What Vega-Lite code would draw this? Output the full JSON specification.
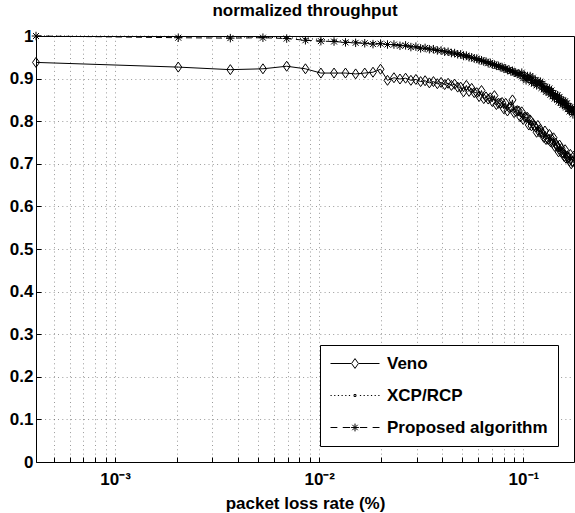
{
"$schema": "https://vega.github.io/schema/vega-lite/v6.json",
"autosize": "none",
"width": 538,
"height": 426,
"padding": {"left": 36, "top": 36, "right": 1, "bottom": 51},
"background": "white",
"title": {"text": "normalized throughput", "font": "Liberation Sans", "fontSize": 17, "fontWeight": "bold", "color": "#000", "offset": 7},
"config": {
  "font": "Liberation Sans",
  "view": {"stroke": "black", "strokeWidth": 1},
  "axis": {"labelFont": "Liberation Sans", "labelFontSize": 17, "labelFontWeight": "bold", "labelColor": "#000",
           "titleFont": "Liberation Sans", "titleFontSize": 17, "titleFontWeight": "bold", "titleColor": "#000",
           "domain": false, "gridColor": "#000", "gridDash": [1, 3.3], "gridOpacity": 0.4, "gridWidth": 1,
           "tickColor": "#000", "tickSize": -5, "tickWidth": 1},
  "legend": {"orient": "bottom-right", "offset": 16, "strokeColor": "black", "fillColor": "white", "padding": 10,
             "labelFont": "Liberation Sans", "labelFontSize": 17, "labelFontWeight": "bold", "labelColor": "#000", "labelLimit": 400,
             "symbolSize": 2401, "symbolStrokeWidth": 1, "symbolStrokeColor": "black", "symbolOpacity": 1,
             "clipHeight": 17, "rowPadding": 14, "labelOffset": 7}
},
"data": {"values": [
{"x":0.00041,"s":"Veno","y":0.938},{"x":0.00204,"s":"Veno","y":0.927},{"x":0.00367,"s":"Veno","y":0.921},{"x":0.0053,"s":"Veno","y":0.923},{"x":0.00693,"s":"Veno","y":0.929},{"x":0.00856,"s":"Veno","y":0.923},{"x":0.01019,"s":"Veno","y":0.913},{"x":0.01182,"s":"Veno","y":0.913},{"x":0.01345,"s":"Veno","y":0.913},{"x":0.01508,"s":"Veno","y":0.911},
{"x":0.01671,"s":"Veno","y":0.913},{"x":0.01834,"s":"Veno","y":0.915},{"x":0.01997,"s":"Veno","y":0.922},{"x":0.0216,"s":"Veno","y":0.896},{"x":0.02323,"s":"Veno","y":0.902},{"x":0.02486,"s":"Veno","y":0.899},{"x":0.02649,"s":"Veno","y":0.901},{"x":0.02812,"s":"Veno","y":0.896},{"x":0.02975,"s":"Veno","y":0.898},{"x":0.03138,"s":"Veno","y":0.893},
{"x":0.03301,"s":"Veno","y":0.895},{"x":0.03464,"s":"Veno","y":0.89},{"x":0.03627,"s":"Veno","y":0.893},{"x":0.0379,"s":"Veno","y":0.888},{"x":0.03953,"s":"Veno","y":0.891},{"x":0.04116,"s":"Veno","y":0.886},{"x":0.04279,"s":"Veno","y":0.889},{"x":0.04442,"s":"Veno","y":0.884},{"x":0.04605,"s":"Veno","y":0.887},{"x":0.04768,"s":"Veno","y":0.88},
{"x":0.04931,"s":"Veno","y":0.88},{"x":0.05094,"s":"Veno","y":0.869},{"x":0.05257,"s":"Veno","y":0.884},{"x":0.0542,"s":"Veno","y":0.87},{"x":0.05583,"s":"Veno","y":0.877},{"x":0.05746,"s":"Veno","y":0.867},{"x":0.05909,"s":"Veno","y":0.867},{"x":0.06072,"s":"Veno","y":0.858},{"x":0.06235,"s":"Veno","y":0.872},{"x":0.06398,"s":"Veno","y":0.853},
{"x":0.06561,"s":"Veno","y":0.857},{"x":0.06724,"s":"Veno","y":0.852},{"x":0.06887,"s":"Veno","y":0.855},{"x":0.0705,"s":"Veno","y":0.846},{"x":0.07213,"s":"Veno","y":0.86},{"x":0.07376,"s":"Veno","y":0.839},{"x":0.07539,"s":"Veno","y":0.842},{"x":0.07702,"s":"Veno","y":0.842},{"x":0.07865,"s":"Veno","y":0.844},{"x":0.08028,"s":"Veno","y":0.829},
{"x":0.08191,"s":"Veno","y":0.842},{"x":0.08354,"s":"Veno","y":0.824},{"x":0.08517,"s":"Veno","y":0.832},{"x":0.0868,"s":"Veno","y":0.833},{"x":0.08843,"s":"Veno","y":0.85},{"x":0.09006,"s":"Veno","y":0.82},{"x":0.09169,"s":"Veno","y":0.823},{"x":0.09332,"s":"Veno","y":0.825},{"x":0.09495,"s":"Veno","y":0.824},{"x":0.09658,"s":"Veno","y":0.81},
{"x":0.09821,"s":"Veno","y":0.822},{"x":0.09984,"s":"Veno","y":0.804},{"x":0.10147,"s":"Veno","y":0.81},{"x":0.1031,"s":"Veno","y":0.809},{"x":0.10473,"s":"Veno","y":0.809},{"x":0.10636,"s":"Veno","y":0.791},{"x":0.10799,"s":"Veno","y":0.803},{"x":0.10962,"s":"Veno","y":0.789},{"x":0.11125,"s":"Veno","y":0.795},{"x":0.11288,"s":"Veno","y":0.789},
{"x":0.11451,"s":"Veno","y":0.787},{"x":0.11614,"s":"Veno","y":0.774},{"x":0.11777,"s":"Veno","y":0.79},{"x":0.1194,"s":"Veno","y":0.775},{"x":0.12103,"s":"Veno","y":0.781},{"x":0.12266,"s":"Veno","y":0.773},{"x":0.12429,"s":"Veno","y":0.771},{"x":0.12592,"s":"Veno","y":0.762},{"x":0.12755,"s":"Veno","y":0.777},{"x":0.12918,"s":"Veno","y":0.757},
{"x":0.13081,"s":"Veno","y":0.76},{"x":0.13244,"s":"Veno","y":0.757},{"x":0.13407,"s":"Veno","y":0.769},{"x":0.1357,"s":"Veno","y":0.752},{"x":0.13733,"s":"Veno","y":0.759},{"x":0.13896,"s":"Veno","y":0.75},{"x":0.14059,"s":"Veno","y":0.761},{"x":0.14222,"s":"Veno","y":0.741},{"x":0.14385,"s":"Veno","y":0.748},{"x":0.14548,"s":"Veno","y":0.743},
{"x":0.14711,"s":"Veno","y":0.74},{"x":0.14874,"s":"Veno","y":0.728},{"x":0.15037,"s":"Veno","y":0.744},{"x":0.152,"s":"Veno","y":0.729},{"x":0.15363,"s":"Veno","y":0.736},{"x":0.15526,"s":"Veno","y":0.727},{"x":0.15689,"s":"Veno","y":0.725},{"x":0.15852,"s":"Veno","y":0.717},{"x":0.16015,"s":"Veno","y":0.733},{"x":0.16178,"s":"Veno","y":0.713},
{"x":0.16341,"s":"Veno","y":0.718},{"x":0.16504,"s":"Veno","y":0.714},{"x":0.16667,"s":"Veno","y":0.716},{"x":0.1683,"s":"Veno","y":0.707},{"x":0.16993,"s":"Veno","y":0.722},{"x":0.17156,"s":"Veno","y":0.7},{"x":0.17319,"s":"Veno","y":0.705},{"x":0.17482,"s":"Veno","y":0.705},{"x":0.17645,"s":"Veno","y":0.718},
{"x":0.00041,"s":"XCP/RCP","y":1.0},{"x":0.00204,"s":"XCP/RCP","y":0.999},{"x":0.00367,"s":"XCP/RCP","y":0.998},{"x":0.0053,"s":"XCP/RCP","y":0.997},{"x":0.00693,"s":"XCP/RCP","y":0.996},{"x":0.00856,"s":"XCP/RCP","y":0.994},{"x":0.01019,"s":"XCP/RCP","y":0.992},{"x":0.01182,"s":"XCP/RCP","y":0.99},{"x":0.01345,"s":"XCP/RCP","y":0.988},{"x":0.01508,"s":"XCP/RCP","y":0.987},
{"x":0.01671,"s":"XCP/RCP","y":0.985},{"x":0.01834,"s":"XCP/RCP","y":0.984},{"x":0.01997,"s":"XCP/RCP","y":0.982},{"x":0.0216,"s":"XCP/RCP","y":0.981},{"x":0.02323,"s":"XCP/RCP","y":0.978},{"x":0.02486,"s":"XCP/RCP","y":0.979},{"x":0.02649,"s":"XCP/RCP","y":0.976},{"x":0.02812,"s":"XCP/RCP","y":0.976},{"x":0.02975,"s":"XCP/RCP","y":0.973},{"x":0.03138,"s":"XCP/RCP","y":0.973},
{"x":0.03301,"s":"XCP/RCP","y":0.97},{"x":0.03464,"s":"XCP/RCP","y":0.971},{"x":0.03627,"s":"XCP/RCP","y":0.967},{"x":0.0379,"s":"XCP/RCP","y":0.968},{"x":0.03953,"s":"XCP/RCP","y":0.964},{"x":0.04116,"s":"XCP/RCP","y":0.965},{"x":0.04279,"s":"XCP/RCP","y":0.961},{"x":0.04442,"s":"XCP/RCP","y":0.962},{"x":0.04605,"s":"XCP/RCP","y":0.958},{"x":0.04768,"s":"XCP/RCP","y":0.959},
{"x":0.04931,"s":"XCP/RCP","y":0.955},{"x":0.05094,"s":"XCP/RCP","y":0.956},{"x":0.05257,"s":"XCP/RCP","y":0.952},{"x":0.0542,"s":"XCP/RCP","y":0.952},{"x":0.05583,"s":"XCP/RCP","y":0.948},{"x":0.05746,"s":"XCP/RCP","y":0.949},{"x":0.05909,"s":"XCP/RCP","y":0.945},{"x":0.06072,"s":"XCP/RCP","y":0.946},{"x":0.06235,"s":"XCP/RCP","y":0.941},{"x":0.06398,"s":"XCP/RCP","y":0.942},
{"x":0.06561,"s":"XCP/RCP","y":0.938},{"x":0.06724,"s":"XCP/RCP","y":0.939},{"x":0.06887,"s":"XCP/RCP","y":0.934},{"x":0.0705,"s":"XCP/RCP","y":0.935},{"x":0.07213,"s":"XCP/RCP","y":0.931},{"x":0.07376,"s":"XCP/RCP","y":0.932},{"x":0.07539,"s":"XCP/RCP","y":0.927},{"x":0.07702,"s":"XCP/RCP","y":0.929},{"x":0.07865,"s":"XCP/RCP","y":0.924},{"x":0.08028,"s":"XCP/RCP","y":0.926},
{"x":0.08191,"s":"XCP/RCP","y":0.921},{"x":0.08354,"s":"XCP/RCP","y":0.922},{"x":0.08517,"s":"XCP/RCP","y":0.918},{"x":0.0868,"s":"XCP/RCP","y":0.919},{"x":0.08843,"s":"XCP/RCP","y":0.915},{"x":0.09006,"s":"XCP/RCP","y":0.917},{"x":0.09169,"s":"XCP/RCP","y":0.912},{"x":0.09332,"s":"XCP/RCP","y":0.913},{"x":0.09495,"s":"XCP/RCP","y":0.909},{"x":0.09658,"s":"XCP/RCP","y":0.91},
{"x":0.09821,"s":"XCP/RCP","y":0.906},{"x":0.09984,"s":"XCP/RCP","y":0.908},{"x":0.10147,"s":"XCP/RCP","y":0.903},{"x":0.1031,"s":"XCP/RCP","y":0.905},{"x":0.10473,"s":"XCP/RCP","y":0.9},{"x":0.10636,"s":"XCP/RCP","y":0.902},{"x":0.10799,"s":"XCP/RCP","y":0.897},{"x":0.10962,"s":"XCP/RCP","y":0.899},{"x":0.11125,"s":"XCP/RCP","y":0.894},{"x":0.11288,"s":"XCP/RCP","y":0.896},
{"x":0.11451,"s":"XCP/RCP","y":0.891},{"x":0.11614,"s":"XCP/RCP","y":0.893},{"x":0.11777,"s":"XCP/RCP","y":0.888},{"x":0.1194,"s":"XCP/RCP","y":0.889},{"x":0.12103,"s":"XCP/RCP","y":0.884},{"x":0.12266,"s":"XCP/RCP","y":0.886},{"x":0.12429,"s":"XCP/RCP","y":0.88},{"x":0.12592,"s":"XCP/RCP","y":0.882},{"x":0.12755,"s":"XCP/RCP","y":0.876},{"x":0.12918,"s":"XCP/RCP","y":0.877},
{"x":0.13081,"s":"XCP/RCP","y":0.872},{"x":0.13244,"s":"XCP/RCP","y":0.874},{"x":0.13407,"s":"XCP/RCP","y":0.868},{"x":0.1357,"s":"XCP/RCP","y":0.869},{"x":0.13733,"s":"XCP/RCP","y":0.864},{"x":0.13896,"s":"XCP/RCP","y":0.866},{"x":0.14059,"s":"XCP/RCP","y":0.86},{"x":0.14222,"s":"XCP/RCP","y":0.862},{"x":0.14385,"s":"XCP/RCP","y":0.856},{"x":0.14548,"s":"XCP/RCP","y":0.857},
{"x":0.14711,"s":"XCP/RCP","y":0.852},{"x":0.14874,"s":"XCP/RCP","y":0.853},{"x":0.15037,"s":"XCP/RCP","y":0.849},{"x":0.152,"s":"XCP/RCP","y":0.85},{"x":0.15363,"s":"XCP/RCP","y":0.845},{"x":0.15526,"s":"XCP/RCP","y":0.847},{"x":0.15689,"s":"XCP/RCP","y":0.842},{"x":0.15852,"s":"XCP/RCP","y":0.843},{"x":0.16015,"s":"XCP/RCP","y":0.838},{"x":0.16178,"s":"XCP/RCP","y":0.84},
{"x":0.16341,"s":"XCP/RCP","y":0.834},{"x":0.16504,"s":"XCP/RCP","y":0.836},{"x":0.16667,"s":"XCP/RCP","y":0.83},{"x":0.1683,"s":"XCP/RCP","y":0.832},{"x":0.16993,"s":"XCP/RCP","y":0.826},{"x":0.17156,"s":"XCP/RCP","y":0.827},{"x":0.17319,"s":"XCP/RCP","y":0.822},{"x":0.17482,"s":"XCP/RCP","y":0.824},{"x":0.17645,"s":"XCP/RCP","y":0.818},
{"x":0.00041,"s":"Proposed algorithm","y":1.0},{"x":0.00204,"s":"Proposed algorithm","y":0.996},{"x":0.00367,"s":"Proposed algorithm","y":0.995},{"x":0.0053,"s":"Proposed algorithm","y":0.996},{"x":0.00693,"s":"Proposed algorithm","y":0.994},{"x":0.00856,"s":"Proposed algorithm","y":0.99},{"x":0.01019,"s":"Proposed algorithm","y":0.988},{"x":0.01182,"s":"Proposed algorithm","y":0.987},{"x":0.01345,"s":"Proposed algorithm","y":0.985},{"x":0.01508,"s":"Proposed algorithm","y":0.984},
{"x":0.01671,"s":"Proposed algorithm","y":0.983},{"x":0.01834,"s":"Proposed algorithm","y":0.981},{"x":0.01997,"s":"Proposed algorithm","y":0.982},{"x":0.0216,"s":"Proposed algorithm","y":0.98},{"x":0.02323,"s":"Proposed algorithm","y":0.98},{"x":0.02486,"s":"Proposed algorithm","y":0.977},{"x":0.02649,"s":"Proposed algorithm","y":0.978},{"x":0.02812,"s":"Proposed algorithm","y":0.974},{"x":0.02975,"s":"Proposed algorithm","y":0.975},{"x":0.03138,"s":"Proposed algorithm","y":0.971},
{"x":0.03301,"s":"Proposed algorithm","y":0.972},{"x":0.03464,"s":"Proposed algorithm","y":0.969},{"x":0.03627,"s":"Proposed algorithm","y":0.969},{"x":0.0379,"s":"Proposed algorithm","y":0.966},{"x":0.03953,"s":"Proposed algorithm","y":0.966},{"x":0.04116,"s":"Proposed algorithm","y":0.963},{"x":0.04279,"s":"Proposed algorithm","y":0.963},{"x":0.04442,"s":"Proposed algorithm","y":0.96},{"x":0.04605,"s":"Proposed algorithm","y":0.96},{"x":0.04768,"s":"Proposed algorithm","y":0.957},
{"x":0.04931,"s":"Proposed algorithm","y":0.957},{"x":0.05094,"s":"Proposed algorithm","y":0.953},{"x":0.05257,"s":"Proposed algorithm","y":0.954},{"x":0.0542,"s":"Proposed algorithm","y":0.95},{"x":0.05583,"s":"Proposed algorithm","y":0.95},{"x":0.05746,"s":"Proposed algorithm","y":0.947},{"x":0.05909,"s":"Proposed algorithm","y":0.947},{"x":0.06072,"s":"Proposed algorithm","y":0.943},{"x":0.06235,"s":"Proposed algorithm","y":0.943},{"x":0.06398,"s":"Proposed algorithm","y":0.94},
{"x":0.06561,"s":"Proposed algorithm","y":0.94},{"x":0.06724,"s":"Proposed algorithm","y":0.936},{"x":0.06887,"s":"Proposed algorithm","y":0.937},{"x":0.0705,"s":"Proposed algorithm","y":0.933},{"x":0.07213,"s":"Proposed algorithm","y":0.933},{"x":0.07376,"s":"Proposed algorithm","y":0.93},{"x":0.07539,"s":"Proposed algorithm","y":0.93},{"x":0.07702,"s":"Proposed algorithm","y":0.927},{"x":0.07865,"s":"Proposed algorithm","y":0.927},{"x":0.08028,"s":"Proposed algorithm","y":0.923},
{"x":0.08191,"s":"Proposed algorithm","y":0.924},{"x":0.08354,"s":"Proposed algorithm","y":0.92},{"x":0.08517,"s":"Proposed algorithm","y":0.921},{"x":0.0868,"s":"Proposed algorithm","y":0.917},{"x":0.08843,"s":"Proposed algorithm","y":0.918},{"x":0.09006,"s":"Proposed algorithm","y":0.914},{"x":0.09169,"s":"Proposed algorithm","y":0.914},{"x":0.09332,"s":"Proposed algorithm","y":0.911},{"x":0.09495,"s":"Proposed algorithm","y":0.912},{"x":0.09658,"s":"Proposed algorithm","y":0.908},
{"x":0.09821,"s":"Proposed algorithm","y":0.914},{"x":0.09984,"s":"Proposed algorithm","y":0.901},{"x":0.10147,"s":"Proposed algorithm","y":0.908},{"x":0.1031,"s":"Proposed algorithm","y":0.896},{"x":0.10473,"s":"Proposed algorithm","y":0.906},{"x":0.10636,"s":"Proposed algorithm","y":0.898},{"x":0.10799,"s":"Proposed algorithm","y":0.906},{"x":0.10962,"s":"Proposed algorithm","y":0.891},{"x":0.11125,"s":"Proposed algorithm","y":0.902},{"x":0.11288,"s":"Proposed algorithm","y":0.889},
{"x":0.11451,"s":"Proposed algorithm","y":0.896},{"x":0.11614,"s":"Proposed algorithm","y":0.884},{"x":0.11777,"s":"Proposed algorithm","y":0.894},{"x":0.1194,"s":"Proposed algorithm","y":0.886},{"x":0.12103,"s":"Proposed algorithm","y":0.893},{"x":0.12266,"s":"Proposed algorithm","y":0.878},{"x":0.12429,"s":"Proposed algorithm","y":0.888},{"x":0.12592,"s":"Proposed algorithm","y":0.875},{"x":0.12755,"s":"Proposed algorithm","y":0.881},{"x":0.12918,"s":"Proposed algorithm","y":0.869},
{"x":0.13081,"s":"Proposed algorithm","y":0.878},{"x":0.13244,"s":"Proposed algorithm","y":0.87},{"x":0.13407,"s":"Proposed algorithm","y":0.877},{"x":0.1357,"s":"Proposed algorithm","y":0.862},{"x":0.13733,"s":"Proposed algorithm","y":0.872},{"x":0.13896,"s":"Proposed algorithm","y":0.859},{"x":0.14059,"s":"Proposed algorithm","y":0.865},{"x":0.14222,"s":"Proposed algorithm","y":0.853},{"x":0.14385,"s":"Proposed algorithm","y":0.862},{"x":0.14548,"s":"Proposed algorithm","y":0.854},
{"x":0.14711,"s":"Proposed algorithm","y":0.861},{"x":0.14874,"s":"Proposed algorithm","y":0.846},{"x":0.15037,"s":"Proposed algorithm","y":0.857},{"x":0.152,"s":"Proposed algorithm","y":0.844},{"x":0.15363,"s":"Proposed algorithm","y":0.85},{"x":0.15526,"s":"Proposed algorithm","y":0.838},{"x":0.15689,"s":"Proposed algorithm","y":0.848},{"x":0.15852,"s":"Proposed algorithm","y":0.84},{"x":0.16015,"s":"Proposed algorithm","y":0.847},{"x":0.16178,"s":"Proposed algorithm","y":0.832},
{"x":0.16341,"s":"Proposed algorithm","y":0.842},{"x":0.16504,"s":"Proposed algorithm","y":0.829},{"x":0.16667,"s":"Proposed algorithm","y":0.835},{"x":0.1683,"s":"Proposed algorithm","y":0.823},{"x":0.16993,"s":"Proposed algorithm","y":0.832},{"x":0.17156,"s":"Proposed algorithm","y":0.824},{"x":0.17319,"s":"Proposed algorithm","y":0.831},{"x":0.17482,"s":"Proposed algorithm","y":0.816},{"x":0.17645,"s":"Proposed algorithm","y":0.826}
]},
"encoding": {
  "x": {"field": "x", "type": "quantitative",
        "scale": {"type": "log", "domain": [0.00041, 0.177], "nice": false},
        "axis": {"title": "packet loss rate (%)", "titlePadding": 8,
                 "values": [0.0005,0.0006,0.0007,0.0008,0.0009,0.001,0.002,0.003,0.004,0.005,0.006,0.007,0.008,0.009,0.01,0.02,0.03,0.04,0.05,0.06,0.07,0.08,0.09,0.1],
                 "labelExpr": "datum.value == 0.001 ? '10⁻³' : datum.value == 0.01 ? '10⁻²' : datum.value == 0.1 ? '10⁻¹' : ''",
                 "labelPadding": 14, "labelFlush": false, "labelOverlap": false}},
  "y": {"field": "y", "type": "quantitative",
        "scale": {"domain": [0, 1], "nice": false},
        "axis": {"title": null, "values": [0,0.1,0.2,0.3,0.4,0.5,0.6,0.7,0.8,0.9,1], "format": ".1~f", "labelPadding": 8}}
},
"layer": [
  {"transform": [{"filter": "datum.s == 'Veno'"}], "mark": {"type": "line", "color": "black", "strokeWidth": 1}},
  {"transform": [{"filter": "datum.s == 'XCP/RCP'"}], "mark": {"type": "line", "color": "black", "strokeWidth": 1, "strokeDash": [1, 3]}},
  {"transform": [{"filter": "datum.s == 'Proposed algorithm'"}], "mark": {"type": "line", "color": "black", "strokeWidth": 1, "strokeDash": [6, 4]}},
  {"transform": [{"filter": "datum.s == 'Veno'"}], "mark": {"type": "point", "shape": "M0,-1L0.7,0L0,1L-0.7,0Z", "size": 100, "filled": false, "stroke": "black", "strokeWidth": 1, "opacity": 1}},
  {"transform": [{"filter": "datum.s == 'XCP/RCP'"}], "mark": {"type": "point", "shape": "circle", "size": 4, "filled": true, "color": "black", "opacity": 1}},
  {"transform": [{"filter": "datum.s == 'Proposed algorithm'"}], "mark": {"type": "point", "shape": "M0,-1V1M-1,0H1M-0.7,-0.7L0.7,0.7M-0.7,0.7L0.7,-0.7", "size": 72, "filled": false, "stroke": "black", "strokeWidth": 1, "opacity": 1}},
  {"mark": {"type": "point", "filled": false, "stroke": "black", "opacity": 0},
   "encoding": {
     "shape": {"field": "s", "type": "nominal",
               "scale": {"domain": ["Veno", "XCP/RCP", "Proposed algorithm"],
                         "range": ["M-1,0H-0.16M0.16,0H1M0,-0.2L0.14,0L0,0.2L-0.14,0Z",
                                   "M-1,0h0.05M-0.85,0h0.05M-0.7,0h0.05M-0.55,0h0.05M-0.4,0h0.05M-0.25,0h0.05M0.2,0h0.05M0.35,0h0.05M0.5,0h0.05M0.65,0h0.05M0.8,0h0.05M0.95,0h0.05M-0.04,-0.04h0.08v0.08h-0.08Z",
                                   "M-1,0H-0.72M-0.5,0H-0.2M0.2,0H0.5M0.72,0H1M0,-0.16V0.16M-0.16,0H0.16M-0.11,-0.11L0.11,0.11M-0.11,0.11L0.11,-0.11M9.9,0h0"]},
               "legend": {"title": null}}
   }}
]
}
